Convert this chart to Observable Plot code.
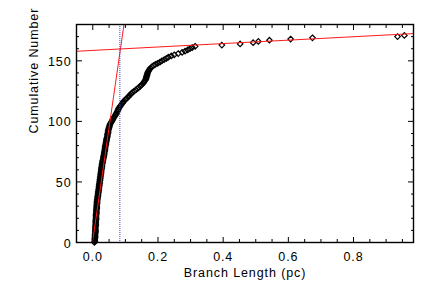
<!DOCTYPE html>
<html><head><meta charset="utf-8">
<script src="https://cdn.jsdelivr.net/npm/d3@7"></script>
<script src="https://cdn.jsdelivr.net/npm/@observablehq/plot@0.6"></script>
<style>body{margin:0;background:#fff}</style>
</head><body><div id="chart"></div>
<script>
// Sorted branch lengths (pc), one per branch
const branchLength = [
  0.005,0.006,0.006,0.006,0.007,0.007,0.007,0.007,0.008,0.008,
  0.008,0.008,0.008,0.008,0.009,0.009,0.009,0.009,0.009,0.010,
  0.010,0.010,0.010,0.010,0.011,0.011,0.011,0.011,0.012,0.012,
  0.012,0.012,0.013,0.013,0.013,0.014,0.014,0.015,0.015,0.016,
  0.016,0.017,0.017,0.018,0.018,0.019,0.019,0.020,0.020,0.021,
  0.021,0.022,0.022,0.023,0.023,0.024,0.024,0.025,0.025,0.026,
  0.026,0.027,0.027,0.028,0.028,0.029,0.030,0.030,0.031,0.032,
  0.033,0.033,0.034,0.035,0.035,0.036,0.037,0.037,0.038,0.038,
  0.039,0.040,0.040,0.041,0.042,0.042,0.043,0.044,0.045,0.045,
  0.046,0.047,0.047,0.048,0.049,0.050,0.051,0.052,0.054,0.056,
  0.058,0.060,0.062,0.064,0.067,0.069,0.071,0.073,0.075,0.077,
  0.078,0.080,0.083,0.085,0.088,0.091,0.093,0.096,0.100,0.104,
  0.108,0.111,0.115,0.118,0.122,0.127,0.132,0.137,0.141,0.145,
  0.149,0.153,0.156,0.158,0.161,0.163,0.164,0.165,0.166,0.167,
  0.168,0.170,0.172,0.174,0.177,0.181,0.186,0.192,0.199,0.206,
  0.212,0.219,0.226,0.232,0.241,0.250,0.262,0.274,0.283,0.291,
  0.298,0.305,0.314,
  0.396,0.452,0.492,0.508,0.542,0.607,0.674,0.935,0.956
];
// Cumulative number: count of branches shorter than each one
const cumulativeNumber = branchLength.map((_, i) => i);

// Linear fits and their break point
const steepFitX = [-0.001, 0.0957];
const steepFitY = [0, 180];
const flatFitX = [-0.05, 0.984];
const flatFitY = [157.9, 172.5];
const breakX = [0.083];

// Axis ticks
const xMajorTicks = [0, 0.2, 0.4, 0.6, 0.8];
const xTickLabels = ["0.0", "0.2", "0.4", "0.6", "0.8"];
const xMinorTicks = [0.05, 0.1, 0.15, 0.25, 0.3, 0.35, 0.45, 0.5, 0.55, 0.65, 0.7, 0.75, 0.85, 0.9, 0.95];
const yMajorTicks = [0, 50, 100, 150];
const yTickLabels = ["0", "50", "100", "150"];
const yMinorTicks = [10, 20, 30, 40, 60, 70, 80, 90, 110, 120, 130, 140, 160, 170];

const xLabel = "Branch Length (pc)";
const yLabel = "Cumulative Number";

const points = branchLength.map((x, i) => ({x, y: cumulativeNumber[i]}));
const steep = steepFitX.map((x, i) => ({x, y: steepFitY[i]}));
const flat = flatFitX.map((x, i) => ({x, y: flatFitY[i]}));

const tick = {fill: "none", label: null, strokeWidth: 1};

const chart = Plot.plot({
  width: 436,
  height: 291,
  marginLeft: 76,
  marginRight: 23,
  marginTop: 24,
  marginBottom: 49,
  x: {domain: [-0.05, 0.984]},
  y: {domain: [0, 180]},
  style: {fontFamily: "'Liberation Sans', Arial, sans-serif", fontSize: "12.5px", color: "black", background: "white", letterSpacing: "0.9px"},
  marks: [
    Plot.dot(points, {x: "x", y: "y", symbol: "diamond2", r: 2.5, stroke: "black", strokeWidth: 1.2, fill: "none"}),
    Plot.line(steep, {x: "x", y: "y", stroke: "#ff1a1a", strokeWidth: 1, clip: true}),
    Plot.line(flat, {x: "x", y: "y", stroke: "#ff1a1a", strokeWidth: 1, clip: true}),
    Plot.ruleX(breakX, {stroke: "#3c3cff", strokeWidth: 1, strokeDasharray: "1,1"}),
    // inward ticks on all four sides
    Plot.axisX({anchor: "bottom", ticks: xMajorTicks, tickSize: 5, dy: -5, ...tick}),
    Plot.axisX({anchor: "bottom", ticks: xMinorTicks, tickSize: 3, dy: -3, ...tick}),
    Plot.axisX({anchor: "top", ticks: xMajorTicks, tickSize: 5, dy: 5, ...tick}),
    Plot.axisX({anchor: "top", ticks: xMinorTicks, tickSize: 3, dy: 3, ...tick}),
    Plot.axisY({anchor: "left", ticks: yMajorTicks, tickSize: 6, dx: 6, ...tick}),
    Plot.axisY({anchor: "left", ticks: yMinorTicks, tickSize: 3, dx: 3, ...tick}),
    Plot.axisY({anchor: "right", ticks: yMajorTicks, tickSize: 6, dx: -6, ...tick}),
    Plot.axisY({anchor: "right", ticks: yMinorTicks, tickSize: 3, dx: -3, ...tick}),
    // tick labels
    Plot.axisX({anchor: "bottom", ticks: xMajorTicks, tickSize: 0, tickPadding: 10,
      tickFormat: d => xTickLabels[xMajorTicks.indexOf(d)], label: null}),
    Plot.axisY({anchor: "left", ticks: yMajorTicks, tickSize: 0, tickPadding: 5, dy: 1,
      tickFormat: d => yTickLabels[yMajorTicks.indexOf(d)], label: null}),
    Plot.frame({stroke: "black", strokeWidth: 1.4}),
    // axis titles
    Plot.text([xLabel], {frameAnchor: "bottom", dy: 30.7, lineAnchor: "middle", text: d => d}),
    Plot.text([yLabel], {frameAnchor: "left", dx: -43, rotate: -90, lineAnchor: "middle", text: d => d})
  ]
});
document.getElementById("chart").appendChild(chart);
</script>
</body></html>
